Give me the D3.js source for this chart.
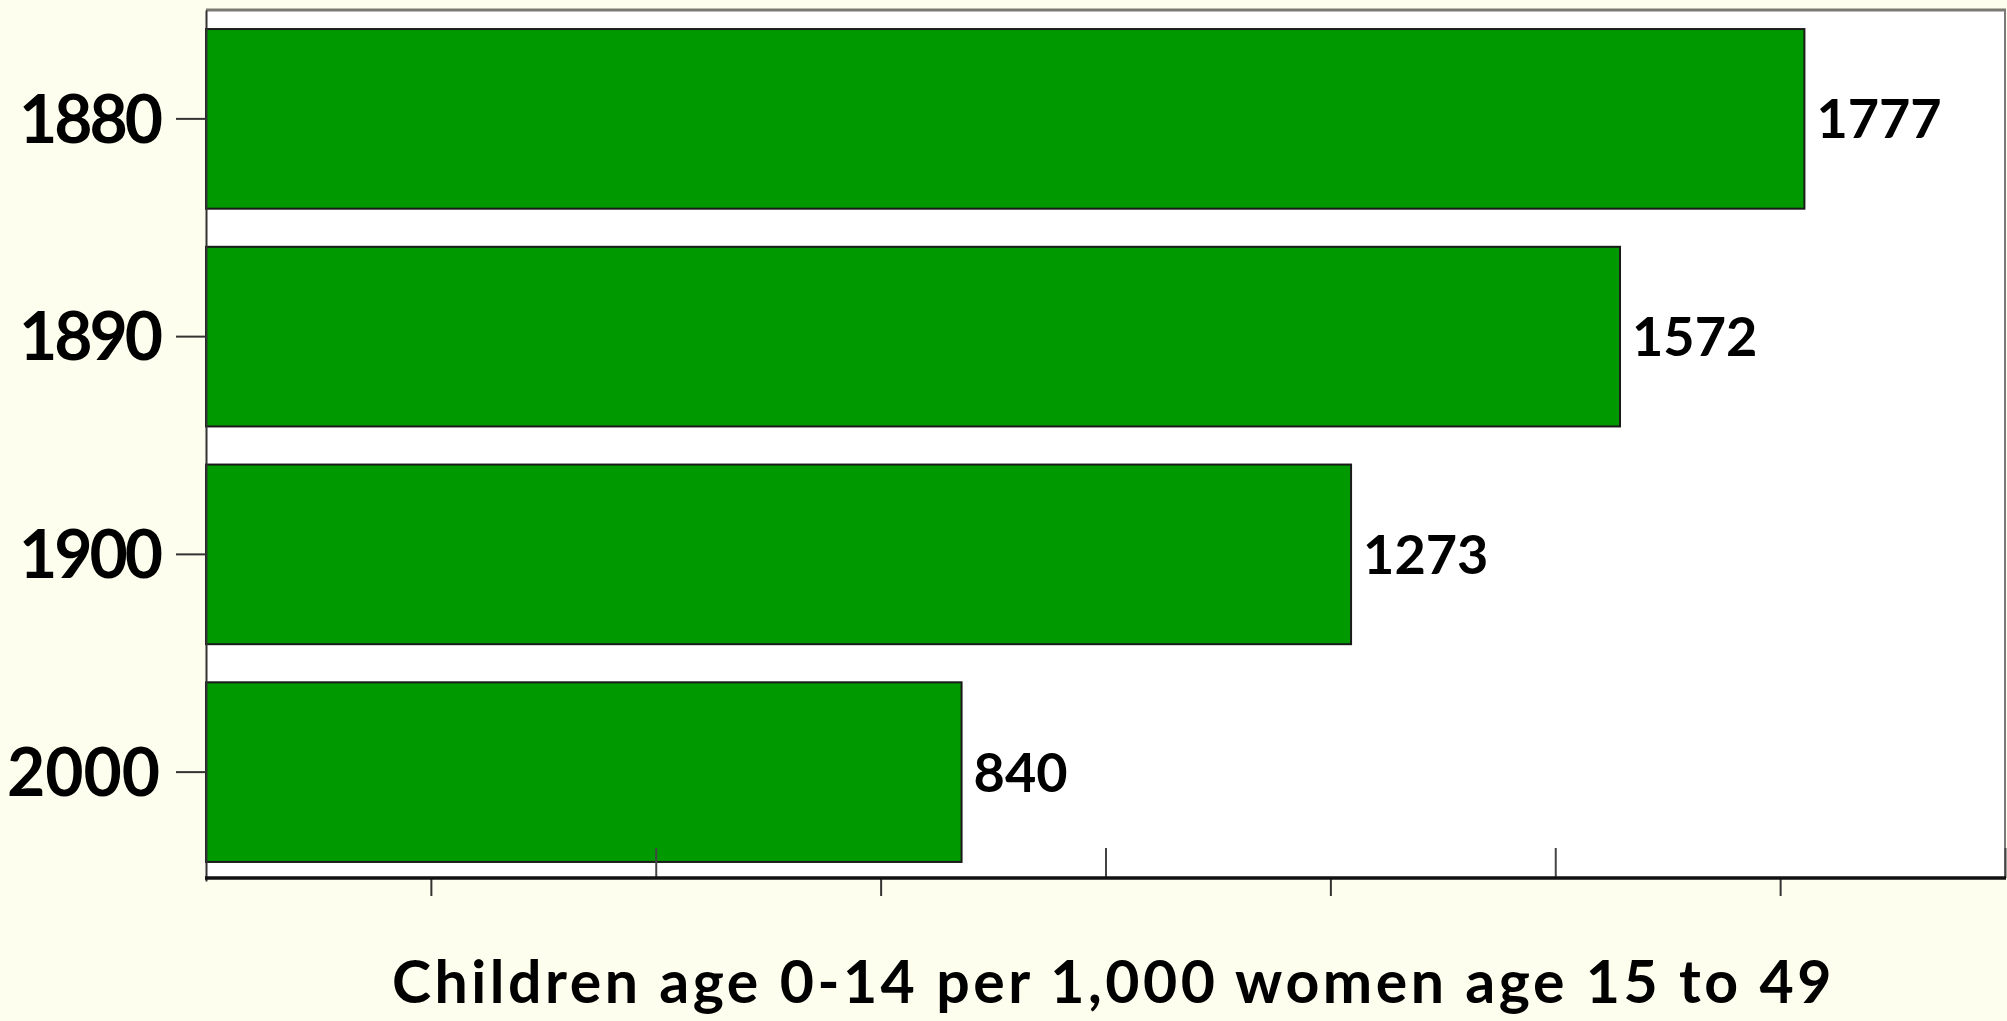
<!DOCTYPE html>
<html>
<head>
<meta charset="utf-8">
<script src="https://cdn.jsdelivr.net/npm/d3@7"></script>
<style>
  html, body { margin: 0; padding: 0; background: #FEFEEE; }
  svg { display: block; }
  text { font-family: Lato, "Open Sans", sans-serif; font-weight: 700; fill: #000; }
</style>
</head>
<body>
<svg id="chart" width="2007" height="1021"></svg>
<script>
const categories = ["1880", "1890", "1900", "2000"];
const values = [1777, 1572, 1273, 840];
const outerTicks = [250, 750, 1250, 1750];
const innerTicks = [500, 1000, 1500, 2000];
const axisTitle = "Children age 0-14 per 1,000 women age 15 to 49";

(function () {
const svg = d3.select("#chart");
const pLeft = 206, pRight = 2005, pTop = 10, pBottom = 878;

const x = d3.scaleLinear().domain([0, 2000]).range([pLeft, pRight]);
const y = d3.scaleBand().domain(categories).range([pTop, pBottom + 3])
  .paddingInner(0.175).paddingOuter(0.0875);

// plot background
svg.append("rect").attr("x", pLeft).attr("y", pTop)
  .attr("width", pRight - pLeft).attr("height", pBottom - pTop)
  .attr("fill", "#ffffff");
// top & right borders
svg.append("line").attr("x1", pLeft).attr("x2", pRight + 1).attr("y1", pTop).attr("y2", pTop)
  .attr("stroke", "#7a7a72").attr("stroke-width", 3);
svg.append("line").attr("x1", pRight).attr("x2", pRight).attr("y1", pTop).attr("y2", pBottom)
  .attr("stroke", "#7a7a7a").attr("stroke-width", 2);

// bars
svg.append("g").selectAll("rect").data(values).join("rect")
  .attr("x", x(0))
  .attr("y", (d, i) => y(categories[i]))
  .attr("width", d => x(d) - x(0))
  .attr("height", y.bandwidth())
  .attr("fill", "#009900")
  .attr("stroke", "#1a1a1a")
  .attr("stroke-width", 2);

// value labels
svg.append("g").selectAll("text").data(values).join("text")
  .attr("x", d => x(d) + 12)
  .attr("y", (d, i) => y(categories[i]) + y.bandwidth() / 2)
  .attr("dy", "0.36em")
  .attr("font-size", 54)
  .text(d => d);

// y axis
const yAxis = svg.append("g").attr("transform", `translate(${pLeft},0)`)
  .call(d3.axisLeft(y).tickSize(30).tickPadding(16).tickSizeOuter(0));
yAxis.select(".domain").attr("stroke", "#333").attr("stroke-width", 2);
yAxis.selectAll(".tick line").attr("stroke", "#333").attr("stroke-width", 2);
yAxis.selectAll(".tick text").attr("font-size", 66).attr("font-family", "Lato, sans-serif")
  .attr("font-weight", 700).attr("fill", "#000").attr("dy", "0.36em")
  .attr("letter-spacing", d => d.startsWith("1") ? -3 : 0);

// x axis: outward ticks
const xAxisOut = svg.append("g").attr("transform", `translate(0,${pBottom})`)
  .call(d3.axisBottom(x).tickValues(outerTicks).tickSize(18).tickFormat(""));
xAxisOut.select(".domain").remove();
xAxisOut.selectAll(".tick line").attr("stroke", "#333").attr("stroke-width", 2);

// x axis: inward ticks
const xAxisIn = svg.append("g").attr("transform", `translate(0,${pBottom})`)
  .call(d3.axisBottom(x).tickValues(innerTicks).tickSize(-30).tickFormat(""));
xAxisIn.select(".domain").remove();
xAxisIn.selectAll(".tick line").attr("stroke", "#444").attr("stroke-width", 2);

// x axis baseline
svg.append("line").attr("x1", pLeft - 1).attr("x2", pRight + 1)
  .attr("y1", pBottom).attr("y2", pBottom)
  .attr("stroke", "#111").attr("stroke-width", 3.5);

// axis title
svg.append("text")
  .attr("x", (pLeft + pRight) / 2 + 8)
  .attr("y", 1003)
  .attr("text-anchor", "middle")
  .attr("font-size", 59)
  .attr("letter-spacing", 3.5)
  .text(axisTitle);
})();
</script>
</body>
</html>
